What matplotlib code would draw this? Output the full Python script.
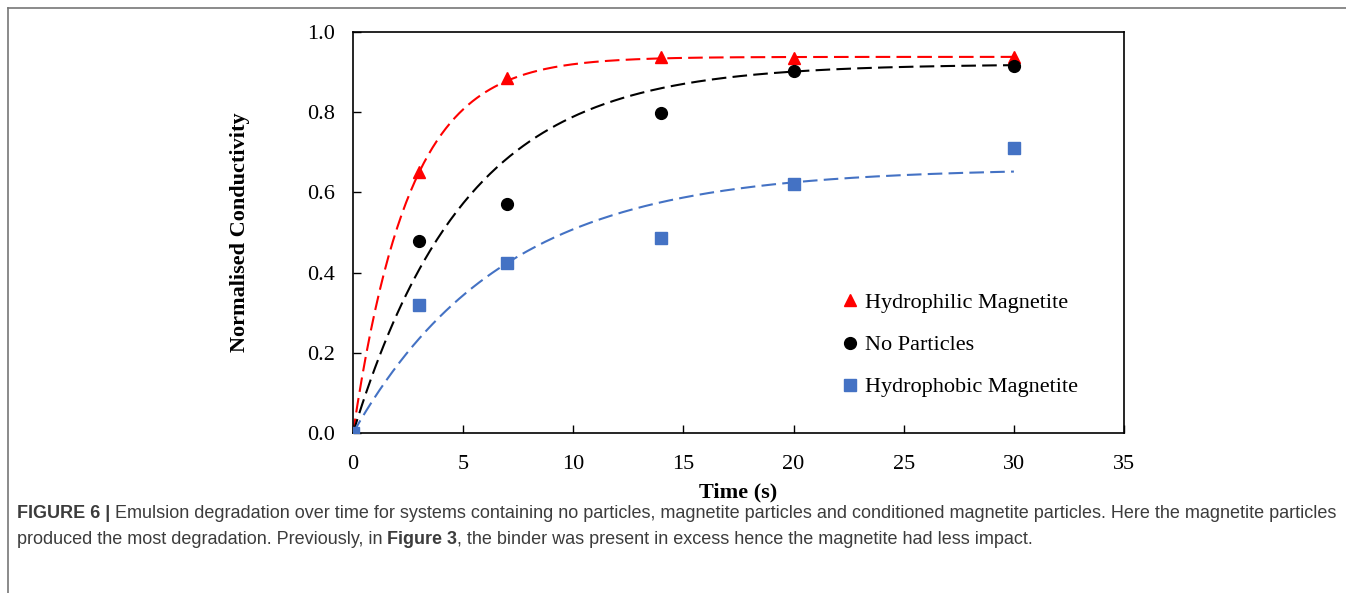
import numpy as np
from matplotlib import pyplot as plt
from matplotlib.lines import Line2D

# measured points
time_s = [0, 3, 7, 14, 20, 30]
hydrophilic = [0.0, 0.651, 0.885, 0.938, 0.935, 0.938]
no_particles = [0.0, 0.479, 0.571, 0.798, 0.903, 0.915]
hydrophobic = [0.0, 0.319, 0.424, 0.486, 0.620, 0.712]

# fitted trend lines y = A * (1 - exp(-k t)), parameters
fit_hydrophilic = (0.938, 0.394)
fit_no_particles = (0.920, 0.195)
fit_hydrophobic = (0.660, 0.147)

labels = ["Hydrophilic Magnetite", "No Particles", "Hydrophobic Magnetite"]

serif = ["Liberation Serif", "DejaVu Serif"]
red = "#FF0000"
blue = "#4472C4"
fs = 16

fig = plt.figure(figsize=(13.46, 5.93), dpi=100)
ax = fig.add_axes([0.2623, 0.2698, 0.5728, 0.6762])

t_fit = np.linspace(0, 30, 300)
for (A, k), col in [(fit_hydrophilic, red), (fit_no_particles, "black"), (fit_hydrophobic, blue)]:
    ax.plot(t_fit, A * (1 - np.exp(-k * t_fit)), color=col, lw=1.5,
            dashes=(7, 3), zorder=2)

ax.plot(time_s, hydrophilic, "^", color=red, ms=9, ls="none", zorder=3)
ax.plot(time_s, no_particles, "o", color="black", ms=8.5, ls="none", zorder=3)
ax.plot(time_s, hydrophobic, "s", color=blue, ms=8, ls="none", zorder=4)

ax.set_xlim(0, 35)
ax.set_ylim(0, 1.0)
ax.set_xticks(range(0, 36, 5))
ax.set_yticks(np.arange(0, 1.01, 0.2))
ax.set_yticklabels([f"{v:.1f}" for v in np.arange(0, 1.01, 0.2)])
ax.tick_params(direction="in", length=6, width=1.0, labelsize=fs)
ax.tick_params(axis="x", pad=16)
ax.tick_params(axis="y", pad=13)
for lab in ax.get_xticklabels() + ax.get_yticklabels():
    lab.set_family(serif)
for side in ax.spines.values():
    side.set_linewidth(1.2)
    side.set_color("black")

ax.set_xlabel("Time (s)", family=serif, fontsize=fs, fontweight="bold", labelpad=6)
ax.set_ylabel("Normalised Conductivity", family=serif, fontsize=fs,
              fontweight="bold", labelpad=41)

handles = [
    Line2D([], [], marker="^", color=red, ls="none", ms=9),
    Line2D([], [], marker="o", color="black", ls="none", ms=8.5),
    Line2D([], [], marker="s", color=blue, ls="none", ms=8),
]
ax.legend(handles, labels, loc="upper left", bbox_to_anchor=(0.612, 0.4),
          frameon=False, handlelength=0.5, handletextpad=0.4, labelspacing=0.97,
          prop={"family": serif, "size": fs})

# outer frame (only top and left visible in the crop)
fig.add_artist(Line2D([8 / 1346, 1.0], [1 - 8 / 593, 1 - 8 / 593],
                      transform=fig.transFigure, color="#777777", lw=1.2))
fig.add_artist(Line2D([8 / 1346, 8 / 1346], [0.0, 1 - 8 / 593],
                      transform=fig.transFigure, color="#777777", lw=1.2))

cap = ["Liberation Sans", "DejaVu Sans"]
gray = "#3c3c3c"
cfs = 13
t1 = fig.text(17 / 1346, 1 - 514 / 593, "FIGURE 6 | ", family=cap, fontsize=cfs,
              fontweight="bold", color=gray, va="center")
fig.canvas.draw()
bb = t1.get_window_extent()
fig.text(bb.x1 / 1346, 1 - 514 / 593,
         "Emulsion degradation over time for systems containing no particles, magnetite particles and conditioned magnetite particles. Here the magnetite particles",
         family=cap, fontsize=cfs, color=gray, va="center")
t2 = fig.text(17 / 1346, 1 - 539 / 593, "produced the most degradation. Previously, in ",
              family=cap, fontsize=cfs, color=gray, va="center")
fig.canvas.draw()
bb = t2.get_window_extent()
t3 = fig.text(bb.x1 / 1346, 1 - 539 / 593, "Figure 3", family=cap, fontsize=cfs,
              fontweight="bold", color=gray, va="center")
fig.canvas.draw()
bb = t3.get_window_extent()
fig.text(bb.x1 / 1346, 1 - 539 / 593,
         ", the binder was present in excess hence the magnetite had less impact.",
         family=cap, fontsize=cfs, color=gray, va="center")

fig.savefig("out.png", dpi=100)
